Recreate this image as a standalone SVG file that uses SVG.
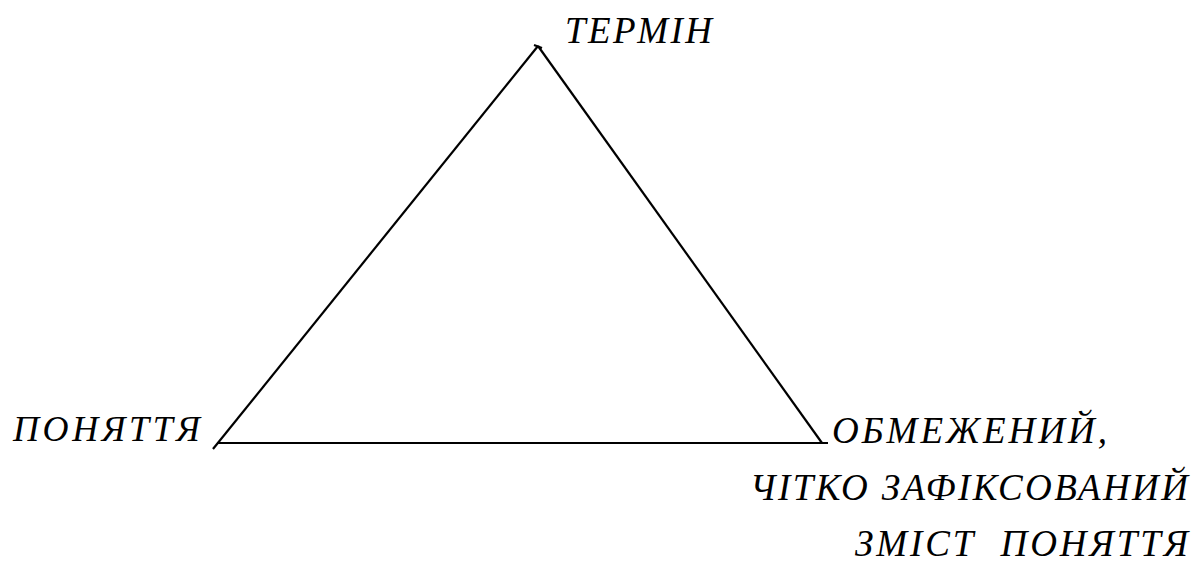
<svg xmlns="http://www.w3.org/2000/svg" width="1200" height="571" viewBox="0 0 1200 571">
<style>
.l{stroke:#000;stroke-width:2.2;fill:none;stroke-linecap:butt}
</style>
<rect width="1200" height="571" fill="#fff"/>
<g id="connectors">
<line class="l" x1="538" y1="46" x2="213" y2="449"/>
<line class="l" x1="538" y1="46" x2="822" y2="443"/>
<line class="l" x1="217" y1="443" x2="828" y2="443"/>
<line class="l" x1="534" y1="45" x2="542" y2="48"/>
</g>
<g id="termin"><text x="565" y="43" font-family="Liberation Serif" font-style="italic" font-size="37" textLength="147" lengthAdjust="spacing">ТЕРМІН</text></g>
<g id="ponyattya"><text x="13" y="441" font-family="Liberation Serif" font-style="italic" font-size="36" textLength="187" lengthAdjust="spacing">ПОНЯТТЯ</text></g>
<g id="zmist">
<text x="832" y="443" font-family="Liberation Serif" font-style="italic" font-size="37" textLength="275" lengthAdjust="spacing">ОБМЕЖЕНИЙ,</text>
<text x="750" y="500" font-family="Liberation Serif" font-style="italic" font-size="37" textLength="438" lengthAdjust="spacing">ЧІТКО ЗАФІКСОВАНИЙ</text>
<text x="855" y="556" font-family="Liberation Serif" font-style="italic" font-size="37" textLength="333" lengthAdjust="spacing" xml:space="preserve">ЗМІСТ  ПОНЯТТЯ</text>
</g>
</svg>
